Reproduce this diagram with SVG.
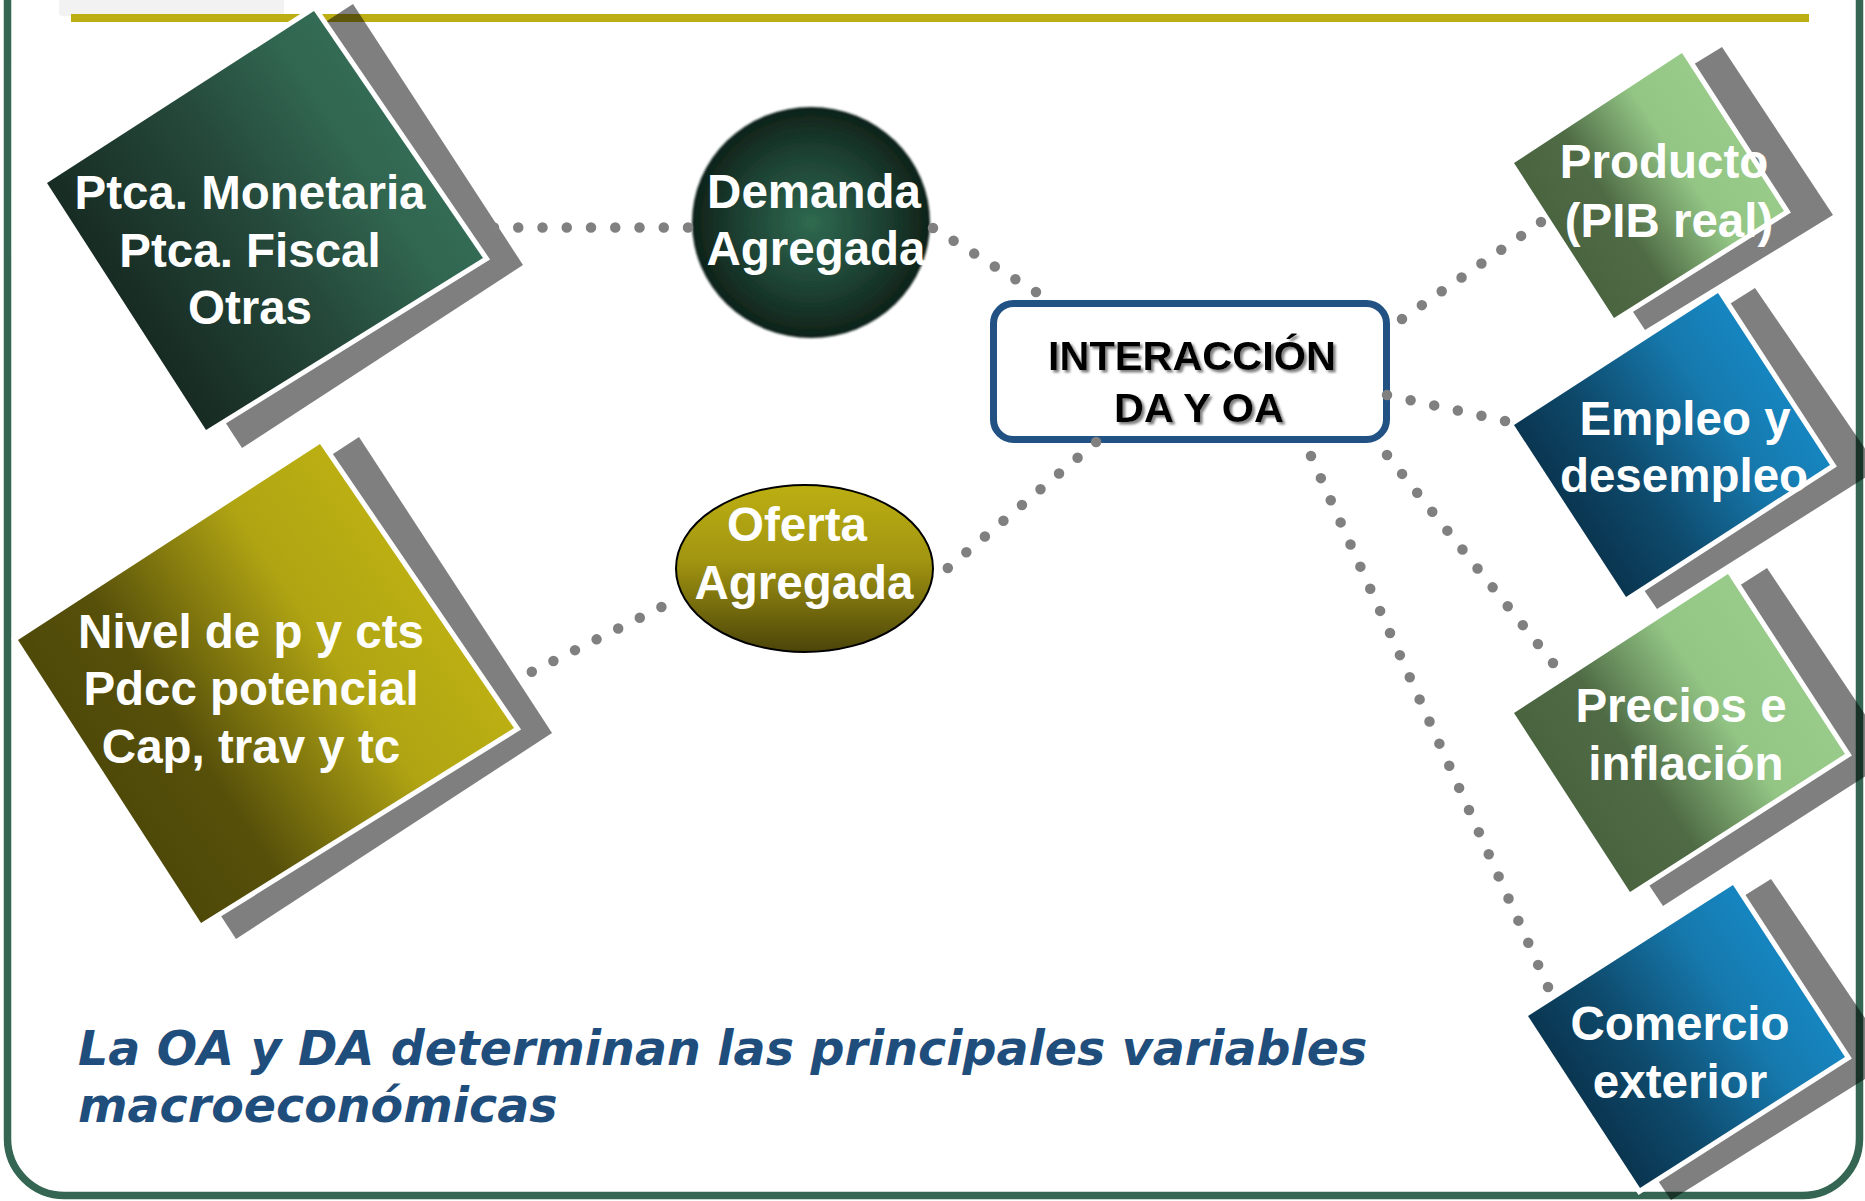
<svg xmlns="http://www.w3.org/2000/svg" width="1865" height="1201" viewBox="0 0 1865 1201">
<style>
.lbl{font-family:"Liberation Sans",Arial,sans-serif;font-weight:bold;font-size:47.5px;fill:#ffffff;text-anchor:middle}
.ctr{font-family:"Liberation Sans",Arial,sans-serif;font-weight:bold;font-size:41.5px;fill:#000000;text-anchor:middle}
.note{font-family:"DejaVu Sans",Verdana,sans-serif;font-weight:bold;font-style:italic;font-size:47.5px;fill:#1f4e7d}
.shadow{fill:#000000;fill-opacity:0.5}
.dia{stroke:#ffffff;stroke-width:10;stroke-linejoin:miter;paint-order:stroke fill}
.conn{fill:none;stroke:#808080;stroke-width:10.5;stroke-linecap:round}
</style>
<defs>
<linearGradient id="gDark" x1="0.18" y1="0.71" x2="0.81" y2="0.3">
<stop offset="0" stop-color="#172b23"/><stop offset="0.5" stop-color="#25493b"/><stop offset="0.85" stop-color="#316650"/><stop offset="1" stop-color="#336b55"/>
</linearGradient>
<linearGradient id="gGold" x1="0.18" y1="0.71" x2="0.81" y2="0.3">
<stop offset="0" stop-color="#4f4909"/><stop offset="0.25" stop-color="#57500a"/><stop offset="0.7" stop-color="#b0a413"/><stop offset="1" stop-color="#bbaf13"/>
</linearGradient>
<linearGradient id="gLight" x1="0.18" y1="0.71" x2="0.81" y2="0.3">
<stop offset="0" stop-color="#4a6440"/><stop offset="0.3" stop-color="#4f6b45"/><stop offset="0.7" stop-color="#93c685"/><stop offset="1" stop-color="#98cb89"/>
</linearGradient>
<linearGradient id="gBlue" x1="0.18" y1="0.71" x2="0.81" y2="0.3">
<stop offset="0" stop-color="#0a3651"/><stop offset="0.3" stop-color="#0e4a6c"/><stop offset="0.75" stop-color="#1679ad"/><stop offset="1" stop-color="#1684be"/>
</linearGradient>
<radialGradient id="gDA" cx="0.5" cy="0.5" r="0.5">
<stop offset="0" stop-color="#2f6a50"/><stop offset="0.6" stop-color="#1d4133"/><stop offset="1" stop-color="#0f2219"/>
</radialGradient>
<linearGradient id="gOA" x1="0" y1="0" x2="0" y2="1">
<stop offset="0" stop-color="#bcaf12"/><stop offset="0.45" stop-color="#a29511"/><stop offset="1" stop-color="#4b4409"/>
</linearGradient>
<filter id="soft" x="-5%" y="-5%" width="110%" height="110%"><feGaussianBlur stdDeviation="1.2"/></filter>
<filter id="tshadow" x="-5%" y="-20%" width="110%" height="140%"><feDropShadow dx="2.5" dy="2.5" stdDeviation="1" flood-color="#808080"/></filter>
</defs>

<rect x="0" y="0" width="1865" height="1201" fill="#ffffff"/>

<g id="frame">
<rect x="59" y="-6" width="225" height="22" rx="4" fill="#f2f2f2"/>
<rect x="7.5" y="-100" width="1852" height="1295.5" rx="57" fill="none" stroke="#346653" stroke-width="7.5"/>
<rect x="71" y="14" width="1738" height="8" fill="#bdae14"/>
</g>

<g id="node-politicas">
<polygon class="shadow" points="353,4 523,265 242,448 72,187"/>
<polygon class="dia" fill="url(#gDark)" points="314,11 483,258 206,430 47,183"/>
<text class="lbl" x="250" y="209">Ptca. Monetaria</text>
<text class="lbl" x="250" y="267">Ptca. Fiscal</text>
<text class="lbl" x="250" y="324">Otras</text>
</g>

<g id="node-nivel">
<polygon class="shadow" points="359,437 552,733 236,939 43,643"/>
<polygon class="dia" fill="url(#gGold)" points="320,444 514,728 201,923 18,640"/>
<text class="lbl" x="251" y="648">Nivel de p y cts</text>
<text class="lbl" x="251" y="705">Pdcc potencial</text>
<text class="lbl" x="251" y="763">Cap, trav y tc</text>
</g>

<g id="node-demanda">
<ellipse cx="811" cy="222.5" rx="119" ry="115.5" fill="url(#gDA)" filter="url(#soft)"/>
<text class="lbl" x="814" y="208">Demanda</text>
<text class="lbl" x="816" y="265">Agregada</text>
</g>

<g id="node-oferta">
<ellipse cx="804.5" cy="568.5" rx="128.5" ry="83.5" fill="url(#gOA)" stroke="#000000" stroke-width="2"/>
<text class="lbl" x="797" y="541">Oferta</text>
<text class="lbl" x="804" y="599">Agregada</text>
</g>

<g id="node-interaccion">
<rect x="993.5" y="303.5" width="393" height="136" rx="20" fill="#ffffff" stroke="#215283" stroke-width="7"/>
<g filter="url(#tshadow)">
<text class="ctr" x="1192" y="370">INTERACCIÓN</text>
<text class="ctr" x="1199" y="422">DA Y OA</text>
</g>
</g>

<g id="node-producto">
<polygon class="shadow" points="1722,47 1833,215 1645,330 1534,162"/>
<polygon class="dia" fill="url(#gLight)" points="1682,53 1784,211 1614,318 1514,163"/>
<text class="lbl" x="1664" y="178">Producto</text>
<text class="lbl" x="1669" y="237">(PIB real)</text>
</g>

<g id="node-empleo">
<polygon class="shadow" points="1755,288 1879,469 1657,609 1533,428"/>
<polygon class="dia" fill="url(#gBlue)" points="1718,293 1830,465 1626,597 1514,425"/>
<text class="lbl" x="1685" y="435">Empleo y</text>
<text class="lbl" x="1684" y="492">desempleo</text>
</g>

<g id="node-precios">
<polygon class="shadow" points="1767,568 1894,758 1663,906 1536,716"/>
<polygon class="dia" fill="url(#gLight)" points="1728,574 1845,754 1630,892 1514,713"/>
<text class="lbl" x="1681" y="722">Precios e</text>
<text class="lbl" x="1686" y="780">inflación</text>
</g>

<g id="node-comercio">
<polygon class="shadow" points="1771,879 1894,1061 1671,1200 1548,1018"/>
<polygon class="dia" fill="url(#gBlue)" points="1733,885 1845,1057 1640,1188 1528,1016"/>
<text class="lbl" x="1680" y="1040">Comercio</text>
<text class="lbl" x="1680" y="1098">exterior</text>
</g>

<g id="connectors">
<line class="conn" x1="494" y1="227.5" x2="690" y2="227.5" stroke-dasharray="0 24.25"/>
<line class="conn" x1="933" y1="228" x2="1037.7" y2="293.1" stroke-dasharray="0 24.25"/>
<line class="conn" x1="947.8" y1="568" x2="1097.6" y2="440.7" stroke-dasharray="0 24.33"/>
<line class="conn" x1="531.8" y1="671.7" x2="663.2" y2="606.1" stroke-dasharray="0 24.14"/>
<line class="conn" x1="1402" y1="319" x2="1542.6" y2="220.9" stroke-dasharray="0 24.21"/>
<line class="conn" x1="1387" y1="395" x2="1507" y2="421.4" stroke-dasharray="0 24.17"/>
<line class="conn" x1="1387" y1="455" x2="1554.2" y2="664.5" stroke-dasharray="0 24.19"/>
<line class="conn" x1="1311" y1="456" x2="1548.8" y2="988.8" stroke-dasharray="0 24.23"/>
</g>

<g id="caption">
<text class="note" x="78" y="1065">La OA y DA determinan las principales variables</text>
<text class="note" x="78" y="1122">macroeconómicas</text>
</g>
</svg>
